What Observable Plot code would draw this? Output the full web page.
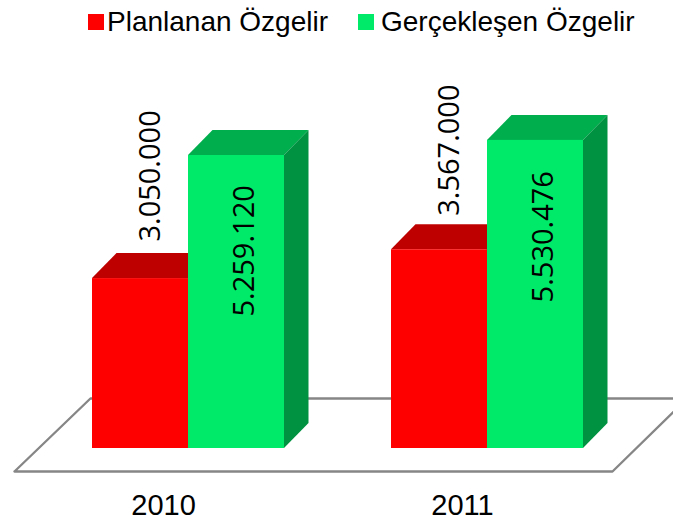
<!DOCTYPE html>
<html><head><meta charset="utf-8">
<script src="https://cdn.jsdelivr.net/npm/d3@7"></script>
<script src="https://cdn.jsdelivr.net/npm/@observablehq/plot@0.6"></script>
<style>
html,body{margin:0;padding:0;background:#fff;overflow:hidden}
#legend{position:relative;height:50px;font:28px "Liberation Sans",Arial,sans-serif;color:#000}
#legend span{position:absolute;white-space:nowrap;line-height:30px;top:7px}
#legend i{position:absolute;width:16px;height:16px;top:14px}
</style></head><body>
<div id="legend"></div>
<div id="chart"></div>
<script>
const years = ["2010", "2011"];
const planned = [3050000, 3567000];
const actual = [5259120, 5530476];
const seriesNames = ["Planlanan Özgelir", "Gerçekleşen Özgelir"];
const frontColors = ["#ff0000", "#00ea69"];
const topColors = ["#bf0000", "#00ae4e"];
const sideColors = ["#bf0000", "#009240"];

// scale set-up
const W = 673, H = 472;
const unit = 17949;                 // value per pixel
const barW = 96 / 299, depthX = 24.5 / 299, depthY = 25 * unit;
const fmt = v => d3.format(",")(v).replace(/,/g, ".");

const bars = years.flatMap((year, i) => [planned[i], actual[i]].map((value, s) => ({
  year, i, s, value,
  x1: i + (s - 1) * barW,
  x2: i + s * barW
})));

const tops = bars.flatMap((b, k) => [
  {id: k, x1: b.x1, x2: b.x2, y: b.value, fill: topColors[b.s]},
  {id: k, x1: b.x1 + depthX, x2: b.x2 + depthX, y: b.value + depthY, fill: topColors[b.s]}
]);
const sides = bars.flatMap((b, k) => [
  {id: k, x: b.x2, y1: 0, y2: b.value, fill: sideColors[b.s]},
  {id: k, x: b.x2 + depthX, y1: depthY, y2: b.value + depthY, fill: sideColors[b.s]}
]);

// floor corners, in chart units
const floor = [
  {x: -0.582, y: -23 * unit},
  {x: 1.418, y: -23 * unit},
  {x: 1.668, y: 50 * unit},
  {x: -0.328, y: 50 * unit},
  {x: -0.582, y: -23 * unit}
];
const lift = [[-37, 161], [-34, 162]];

const chart = Plot.plot({
  width: W, height: H,
  margin: 0,
  style: {background: "transparent", overflow: "hidden"},
  x: {domain: [-188 / 299, (W - 188) / 299], range: [0, W], axis: null},
  y: {domain: [-(H - 398) * unit, 398 * unit], range: [H, 0], axis: null},
  marks: [
    Plot.line(floor, {x: "x", y: "y", stroke: "#868686", strokeWidth: 2.3, fill: "#fff", clip: true}),
    Plot.area(tops, {x1: "x1", x2: "x2", y1: "y", z: "id", fill: d => d.fill}),
    Plot.area(sides, {x1: "x", y1: "y1", y2: "y2", z: "id", fill: d => d.fill}),
    Plot.rect(bars, {x1: "x1", x2: "x2", y1: () => 0, y2: "value", fill: d => frontColors[d.s], inset: 0}),
    ...bars.map(b => Plot.text([b], {
      x: d => d.i + (d.s ? 0.187 : -0.127),
      y: "value",
      dy: lift[b.i][b.s],
      text: d => fmt(d.value),
      rotate: -90,
      textAnchor: "start",
      fontFamily: "'Open Sans'",
      fontSize: 29,
      fill: "#000"
    })),
    Plot.text(years, {
      x: (d, i) => i - 25 / 299,
      y: -57 * unit,
      text: d => d,
      fontFamily: "'Liberation Sans'",
      fontSize: 29,
      fill: "#000"
    })
  ]
});
document.getElementById("chart").append(chart);

const legend = document.getElementById("legend");
const lx = [[88, 107], [358, 381]];
seriesNames.forEach((n, s) => {
  const sw = document.createElement("i");
  sw.style.left = lx[s][0] + "px";
  sw.style.background = frontColors[s];
  const t = document.createElement("span");
  t.style.left = lx[s][1] + "px";
  t.textContent = n;
  legend.append(sw, t);
});
</script>
</body></html>
